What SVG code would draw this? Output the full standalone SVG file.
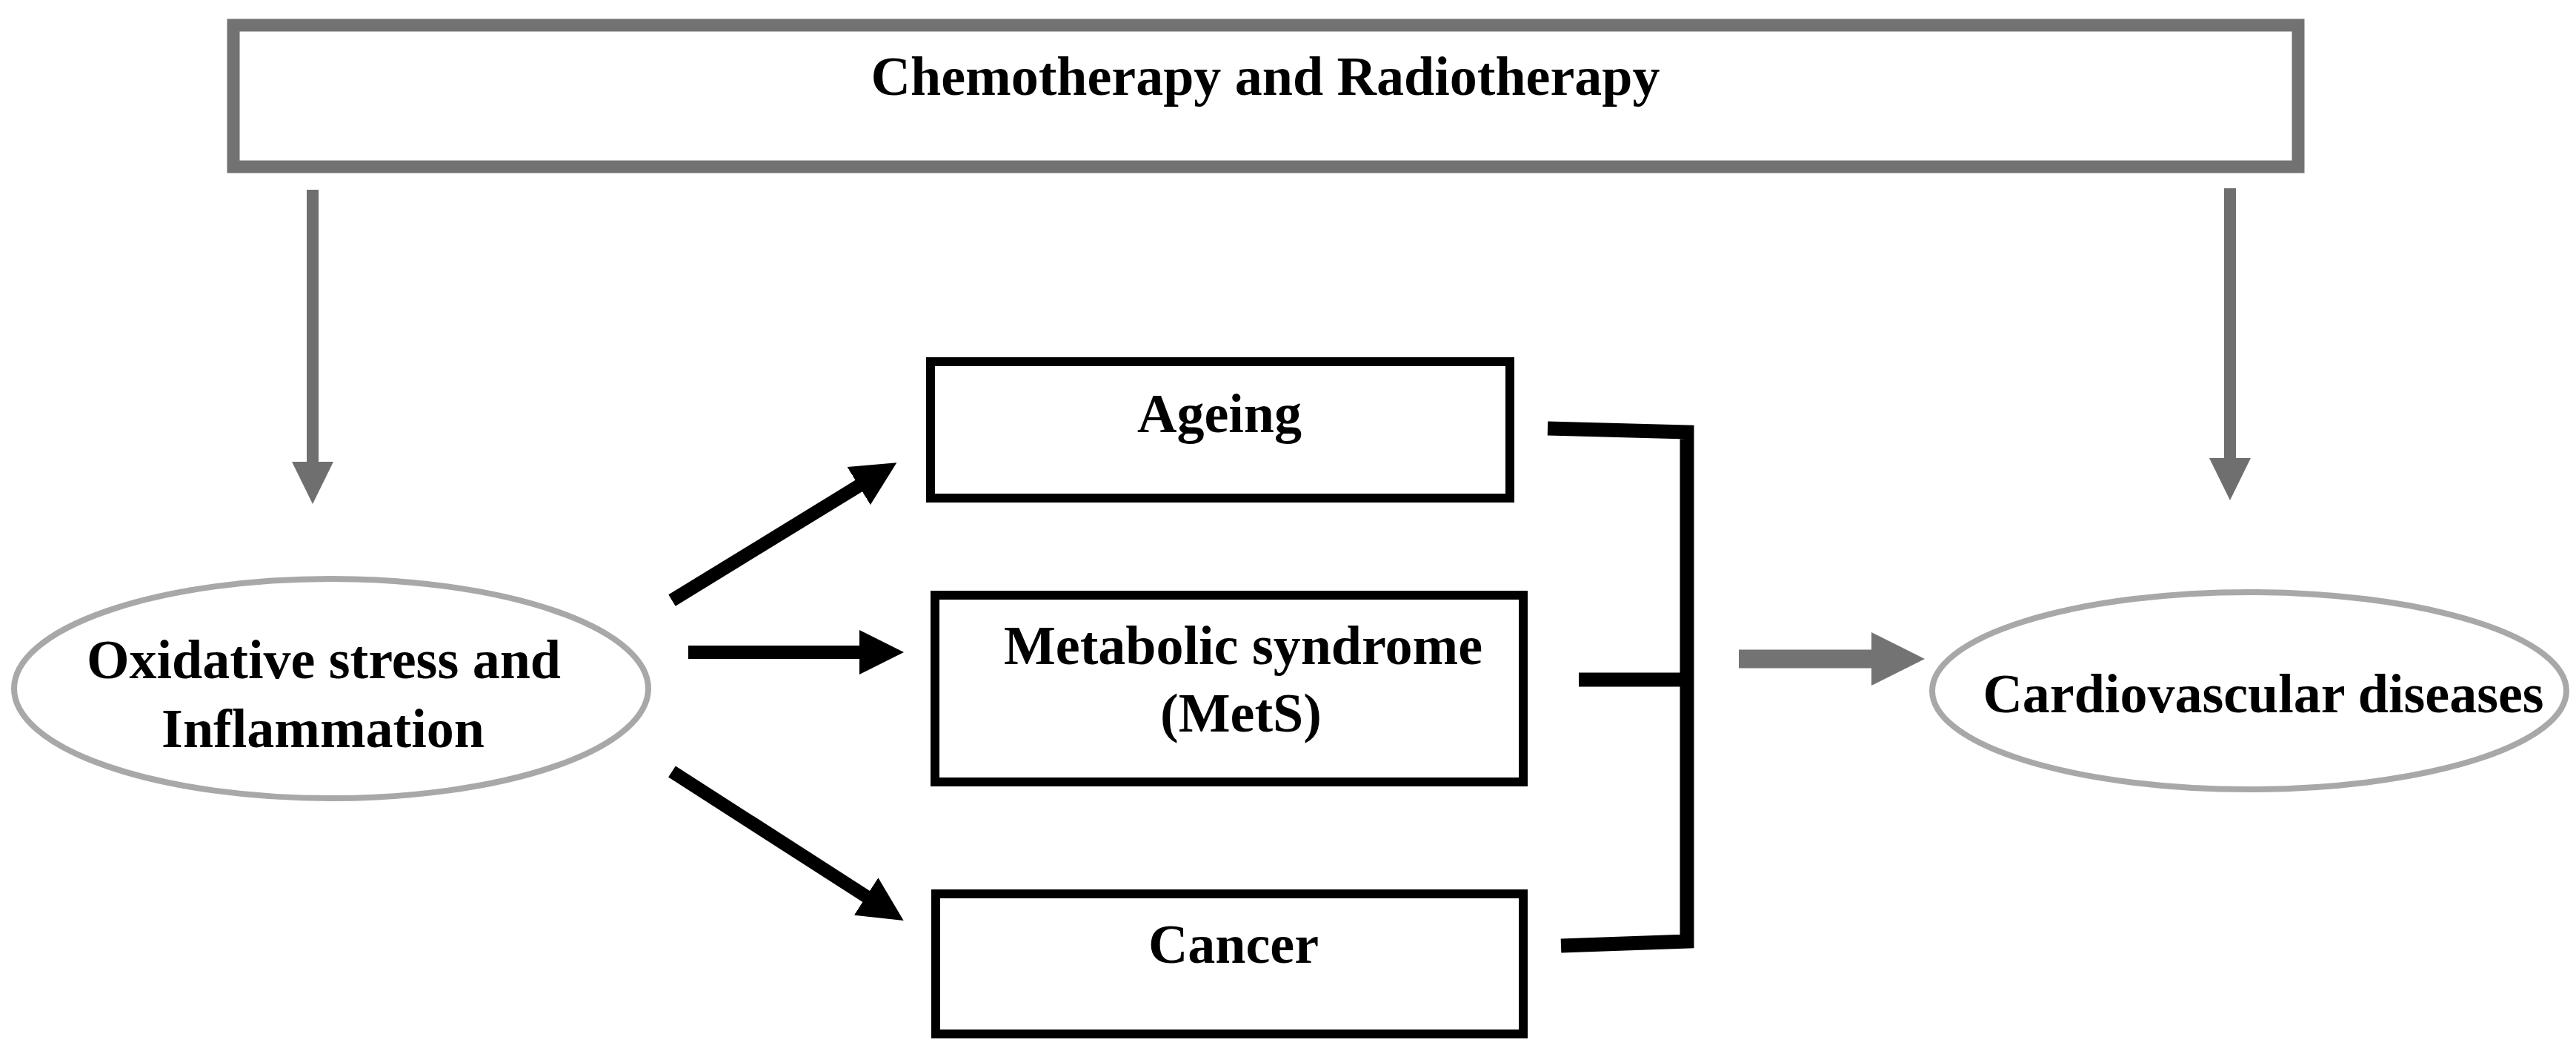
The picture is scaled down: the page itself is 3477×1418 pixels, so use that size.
<svg xmlns="http://www.w3.org/2000/svg" width="3477" height="1418" viewBox="0 0 3477 1418">
  <style>
    .lbl { font-family: "Liberation Serif", "Times New Roman", serif; font-weight: bold; font-size: 74px; fill: #000; text-anchor: middle; }
    .box { fill: #fff; stroke: #000; stroke-width: 12; }
    .topbox { fill: #fff; stroke: #727272; stroke-width: 17; }
    .oval { fill: #fff; stroke: #a8a8a8; stroke-width: 8; }
    .blk { stroke: #000; stroke-width: 18; fill: none; }
    .gry { stroke: #6f6f6f; stroke-width: 16; fill: none; }
    .gryh { stroke: #737373; stroke-width: 25; fill: none; }
    .brk { stroke: #000; stroke-width: 19; fill: none; stroke-linejoin: miter; }
  </style>
  <defs>
    <marker id="headBlack" markerUnits="userSpaceOnUse" markerWidth="62" markerHeight="60" refX="1" refY="30" orient="auto">
      <path d="M0,0 L60,30 L0,60 Z" fill="#000"/>
    </marker>
    <marker id="headGray" markerUnits="userSpaceOnUse" markerWidth="58" markerHeight="58" refX="1" refY="28" orient="auto">
      <path d="M0,0 L57,28 L0,56 Z" fill="#6f6f6f"/>
    </marker>
    <marker id="headGrayBig" markerUnits="userSpaceOnUse" markerWidth="74" markerHeight="72" refX="1" refY="36" orient="auto">
      <path d="M0,0 L72,36 L0,72 Z" fill="#737373"/>
    </marker>
  </defs>
  <rect width="3477" height="1418" fill="#fff"/>

  <g id="connectors">
    <line class="gry" x1="422" y1="256" x2="422" y2="624" marker-end="url(#headGray)"/>
    <line class="gry" x1="3010" y1="254" x2="3010" y2="619" marker-end="url(#headGray)"/>
    <line class="blk" x1="907" y1="810" x2="1160" y2="655" marker-end="url(#headBlack)"/>
    <line class="blk" x1="929" y1="880" x2="1161" y2="880" marker-end="url(#headBlack)"/>
    <line class="blk" x1="907" y1="1041" x2="1170" y2="1210" marker-end="url(#headBlack)"/>
    <polyline class="brk" points="2089,578 2277,583 2277,1270 2107,1276"/>
    <line class="brk" x1="2131" y1="917" x2="2277" y2="917"/>
    <line class="gryh" x1="2347" y1="889" x2="2527" y2="889" marker-end="url(#headGrayBig)"/>
  </g>

  <g id="node-chemo">
    <rect class="topbox" x="315" y="34" width="2787" height="191"/>
    <text class="lbl" x="1708" y="128">Chemotherapy and Radiotherapy</text>
  </g>

  <g id="node-oxidative">
    <ellipse class="oval" cx="447" cy="929" rx="428" ry="148"/>
    <text class="lbl" x="437" y="915">Oxidative stress and</text>
    <text class="lbl" x="436" y="1008">Inflammation</text>
  </g>

  <g id="node-ageing">
    <rect class="box" x="1256" y="488" width="782" height="184"/>
    <text class="lbl" x="1646" y="583">Ageing</text>
  </g>

  <g id="node-mets">
    <rect class="box" x="1262" y="803" width="794" height="252"/>
    <text class="lbl" x="1678" y="896">Metabolic syndrome</text>
    <text class="lbl" x="1675" y="987">(MetS)</text>
  </g>

  <g id="node-cancer">
    <rect class="box" x="1263" y="1206" width="793" height="189"/>
    <text class="lbl" x="1665" y="1299">Cancer</text>
  </g>

  <g id="node-cvd">
    <ellipse class="oval" cx="3036" cy="932" rx="428" ry="133"/>
    <text class="lbl" x="3055" y="961">Cardiovascular diseases</text>
  </g>
</svg>
